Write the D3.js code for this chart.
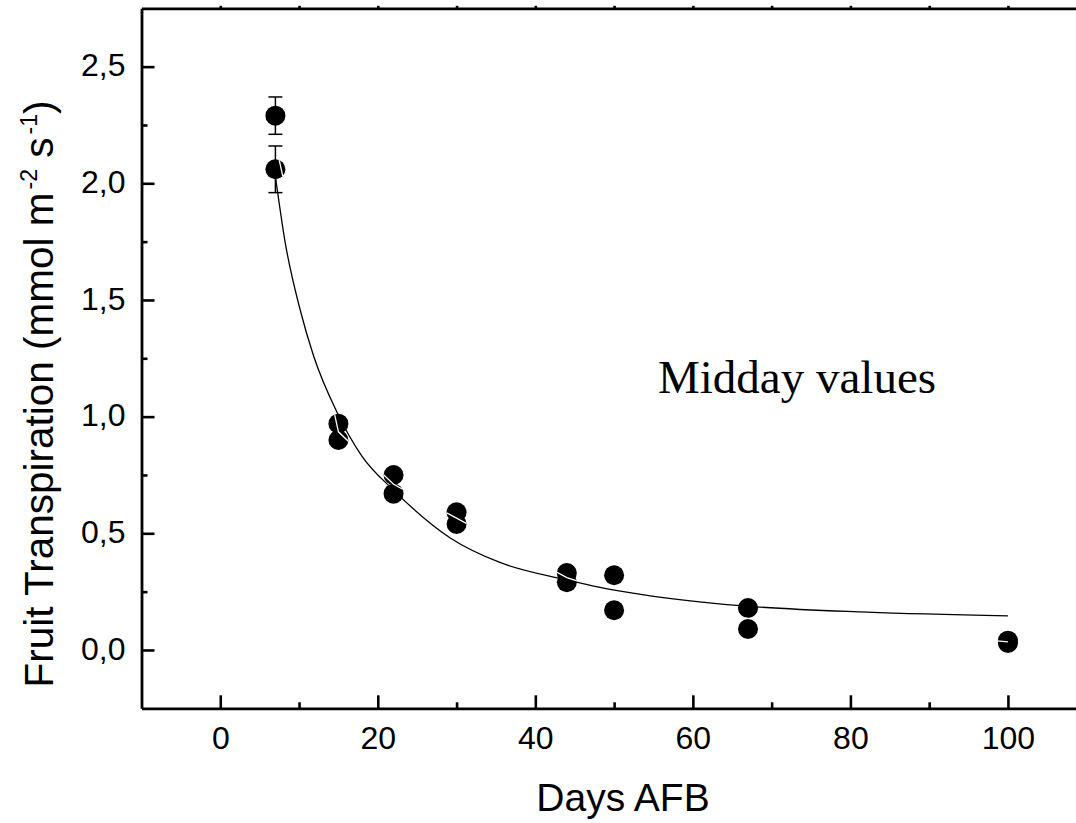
<!DOCTYPE html>
<html>
<head>
<meta charset="utf-8">
<script src="https://cdn.jsdelivr.net/npm/d3@7/dist/d3.min.js"></script>
<style>
  html, body { margin: 0; padding: 0; background: #fff; }
  svg { display: block; }
</style>
</head>
<body>
<svg id="chart" width="1076" height="823"></svg>
<script>
// Midday fruit transpiration measured on each sampling day (days after full bloom)
const days       = [7, 7, 15, 15, 22, 22, 30, 30, 44, 44, 50, 50, 67, 67, 100, 100];
const transp     = [2.29, 2.06, 0.97, 0.90, 0.75, 0.67, 0.59, 0.54, 0.33, 0.29, 0.32, 0.17, 0.18, 0.09, 0.04, 0.03];
// standard errors (only visible on the first sampling day)
const transpErr  = [0.08, 0.10, 0, 0, 0, 0, 0, 0, 0, 0, 0, 0, 0, 0, 0, 0];

// fitted decay curve
const fitDays    = [7, 8.25, 10.15, 11.85, 14.8, 18, 22, 29.2, 35.5, 44, 48.2, 54.6, 66, 82.1, 100];
const fitTransp  = [2.03, 1.745, 1.457, 1.26, 1.02, 0.83, 0.685, 0.48, 0.375, 0.30, 0.268, 0.232, 0.19, 0.162, 0.146];

// axis ticks
const xMajorTicks = [0, 20, 40, 60, 80, 100];
const xMinorTicks = [10, 30, 50, 70, 90];
const xTopTicks   = [0, 10, 20, 30, 40, 50, 60, 70, 80, 90, 100];
const yMajorTicks = [0, 0.5, 1.0, 1.5, 2.0, 2.5];
const yMinorTicks = [0.25, 0.75, 1.25, 1.75, 2.25];

const svg = d3.select("#chart");

const x = d3.scaleLinear().domain([-10, 110]).range([141.5, 1086.7]);
const y = d3.scaleLinear().domain([-0.25, 2.75]).range([708.3, 8.3]);

const commaFmt = d3.formatLocale({decimal: ",", thousands: ".", grouping: [3], currency: ["", ""]}).format(".1f");

const sans = "'Liberation Sans', Arial, sans-serif";

// left axis: inward major and minor ticks
const yAxis = svg.append("g")
  .attr("transform", `translate(${x.range()[0]},0)`)
  .call(d3.axisLeft(y).tickValues(yMajorTicks).tickSize(-13).tickSizeOuter(0)
        .tickPadding(16).tickFormat(commaFmt));
svg.append("g")
  .attr("transform", `translate(${x.range()[0]},0)`)
  .call(d3.axisLeft(y).tickValues(yMinorTicks).tickSize(-6).tickSizeOuter(0).tickFormat(""))
  .call(g => g.select(".domain").remove());

// bottom axis
svg.append("g")
  .attr("transform", `translate(0,${y.range()[0]})`)
  .call(d3.axisBottom(x).tickValues(xMajorTicks).tickSize(-13).tickSizeOuter(0)
        .tickPadding(18).tickFormat(d3.format("d")));
svg.append("g")
  .attr("transform", `translate(0,${y.range()[0]})`)
  .call(d3.axisBottom(x).tickValues(xMinorTicks).tickSize(-6).tickSizeOuter(0).tickFormat(""))
  .call(g => g.select(".domain").remove());

// top frame line with tiny outward ticks
svg.append("g")
  .attr("transform", `translate(0,${y.range()[1]})`)
  .call(d3.axisTop(x).tickValues(xTopTicks).tickSize(2.5).tickSizeOuter(0).tickFormat(""));

svg.selectAll(".domain").attr("stroke", "#000").attr("stroke-width", 2.8);
svg.selectAll(".tick line").attr("stroke", "#000").attr("stroke-width", 2.6);
svg.selectAll(".tick text")
  .attr("font-family", sans).attr("font-size", 32).attr("fill", "#000");
yAxis.selectAll(".tick text").attr("dy", "0.29em");

// error bars
const errG = svg.append("g").attr("stroke", "#000").attr("stroke-width", 1.5);
days.forEach((d, i) => {
  if (!transpErr[i]) return;
  const cx = x(d), top = y(transp[i] + transpErr[i]), bot = y(transp[i] - transpErr[i]);
  errG.append("line").attr("x1", cx).attr("x2", cx).attr("y1", top).attr("y2", bot);
  errG.append("line").attr("x1", cx - 7).attr("x2", cx + 7).attr("y1", top).attr("y2", top);
  errG.append("line").attr("x1", cx - 7).attr("x2", cx + 7).attr("y1", bot).attr("y2", bot);
});

const fitLine = d3.line()
  .x((d, i) => x(fitDays[i]))
  .y((d, i) => y(fitTransp[i]))
  .curve(d3.curveMonotoneX);

// fitted curve
svg.append("path")
  .datum(fitTransp)
  .attr("d", fitLine)
  .attr("fill", "none")
  .attr("stroke", "#000")
  .attr("stroke-width", 1.3);

// data points
const R = 10;
svg.append("g").selectAll("circle")
  .data(days)
  .join("circle")
  .attr("cx", d => x(d))
  .attr("cy", (d, i) => y(transp[i]))
  .attr("r", R)
  .attr("fill", "#000");

// white line joining the daily means; it only shows where it crosses a point
const dayMeans = d3.rollups(days.map((d, i) => [d, transp[i]]), v => d3.mean(v, p => p[1]), p => p[0])
  .sort((a, b) => a[0] - b[0]);
const clip = svg.append("defs").append("clipPath").attr("id", "dotsClip");
clip.selectAll("circle")
  .data(days)
  .join("circle")
  .attr("cx", d => x(d))
  .attr("cy", (d, i) => y(transp[i]))
  .attr("r", R);
svg.append("path")
  .datum(dayMeans)
  .attr("d", d3.line().x(d => x(d[0])).y(d => y(d[1])))
  .attr("fill", "none")
  .attr("stroke", "#fff")
  .attr("stroke-width", 1.3)
  .attr("clip-path", "url(#dotsClip)");

// annotation
svg.append("text")
  .attr("x", 658).attr("y", 393)
  .attr("font-family", "'Liberation Serif', 'Times New Roman', serif")
  .attr("font-size", 47)
  .text("Midday values");

// axis titles
svg.append("text")
  .attr("x", 623).attr("y", 811)
  .attr("text-anchor", "middle")
  .attr("font-family", sans).attr("font-size", 39)
  .text("Days AFB");

const yTitle = svg.append("text")
  .attr("transform", "translate(53,394) rotate(-90)")
  .attr("text-anchor", "middle")
  .attr("font-family", sans).attr("font-size", 40.5);
yTitle.append("tspan").text("Fruit Transpiration (mmol m");
yTitle.append("tspan").attr("font-size", 23).attr("dx", 3).attr("dy", -16).text("-2");
yTitle.append("tspan").attr("dy", 16).text(" s");
yTitle.append("tspan").attr("font-size", 23).attr("dx", 3).attr("dy", -16).text("-1");
yTitle.append("tspan").attr("dy", 16).text(")");
</script>
</body>
</html>
